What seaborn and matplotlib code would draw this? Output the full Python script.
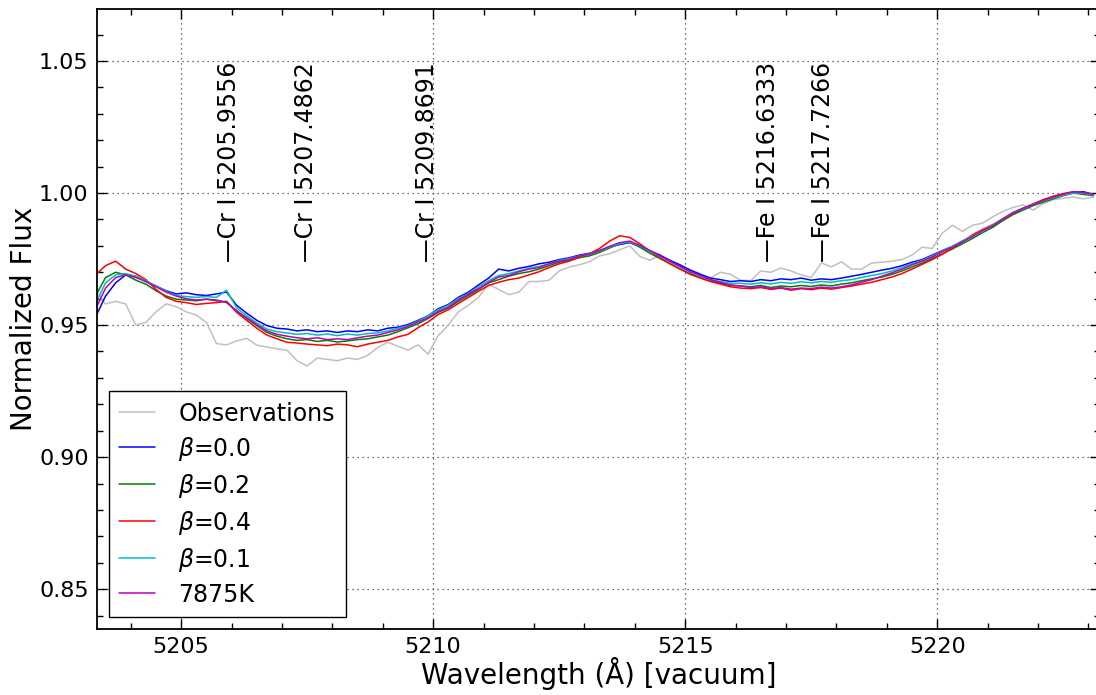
import numpy as np
import pandas as pd
import matplotlib
matplotlib.use("Agg")
from matplotlib import pyplot as plt
from matplotlib.ticker import MultipleLocator, FormatStrFormatter
import seaborn as sns

# wavelength grid (vacuum, Angstrom) the curves were read on
wave = np.round(np.arange(5203.3, 5223.15, 0.2), 1)

obs = [0.963, 0.958, 0.959, 0.958, 0.950, 0.951, 0.955, 0.958, 0.957, 0.955,
       0.9538, 0.951, 0.943, 0.9425, 0.944, 0.945, 0.9424, 0.9417, 0.941, 0.9405,
       0.9365, 0.9345, 0.9375, 0.937, 0.9365, 0.9375, 0.937, 0.9385, 0.9415, 0.9435,
       0.942, 0.9405, 0.9425, 0.939, 0.946, 0.950, 0.955, 0.9575, 0.9605, 0.9655,
       0.9635, 0.9615, 0.9625, 0.9665, 0.9665, 0.967, 0.9705, 0.972, 0.9728, 0.974,
       0.9762, 0.977, 0.9785, 0.980, 0.976, 0.9745, 0.9765, 0.9738, 0.9722, 0.971,
       0.9695, 0.9678, 0.970, 0.9692, 0.967, 0.9668, 0.9705, 0.970, 0.9716, 0.9705,
       0.969, 0.968, 0.9735, 0.972, 0.974, 0.9712, 0.9712, 0.9735, 0.9738, 0.9742,
       0.9748, 0.9765, 0.9795, 0.979, 0.9848, 0.9878, 0.9855, 0.9878, 0.9886, 0.991,
       0.993, 0.9945, 0.9955, 0.9935, 0.996, 0.9975, 0.998, 0.9985, 0.9978, 0.9985]

beta00 = [0.953, 0.961, 0.966, 0.969, 0.9685, 0.9665, 0.9648, 0.963, 0.9618, 0.9622,
          0.9615, 0.9612, 0.9618, 0.9625, 0.9575, 0.9545, 0.9518, 0.9498, 0.9488, 0.9485,
          0.9478, 0.9482, 0.9475, 0.9478, 0.9472, 0.9478, 0.9475, 0.9482, 0.9478, 0.9488,
          0.9492, 0.9502, 0.9518, 0.9535, 0.9562, 0.9578, 0.9605, 0.9625, 0.9652, 0.9678,
          0.9712, 0.9705, 0.9715, 0.9722, 0.9732, 0.9738, 0.9748, 0.9755, 0.9765, 0.9772,
          0.9782, 0.9795, 0.9805, 0.9812, 0.9798, 0.9782, 0.9765, 0.9745, 0.9728, 0.9708,
          0.9692, 0.9678, 0.9672, 0.9665, 0.9668, 0.9665, 0.9672, 0.9668, 0.9675, 0.9672,
          0.9678, 0.9670, 0.9675, 0.9672, 0.9678, 0.9685, 0.9692, 0.9700, 0.9708, 0.9715,
          0.9725, 0.9738, 0.9748, 0.9765, 0.9782, 0.9798, 0.9818, 0.9838, 0.9858, 0.9878,
          0.9902, 0.9925, 0.9942, 0.9958, 0.9972, 0.9985, 0.9995, 1.0002, 1.0005, 0.9995]

beta02 = [0.961, 0.968, 0.970, 0.969, 0.967, 0.9655, 0.963, 0.961, 0.9598, 0.9595,
          0.9592, 0.9598, 0.9595, 0.9585, 0.9555, 0.9525, 0.9498, 0.9472, 0.9458, 0.9448,
          0.9442, 0.9445, 0.9438, 0.9442, 0.9436, 0.9440, 0.9445, 0.9448, 0.9455, 0.9462,
          0.9475, 0.9490, 0.9505, 0.9525, 0.9548, 0.9565, 0.9590, 0.9612, 0.9635, 0.9660,
          0.9672, 0.9685, 0.9695, 0.9702, 0.9712, 0.9725, 0.9738, 0.9745, 0.9755, 0.9762,
          0.9775, 0.9792, 0.9808, 0.9815, 0.9795, 0.9772, 0.9752, 0.9732, 0.9712, 0.9695,
          0.9680, 0.9668, 0.9658, 0.9650, 0.9648, 0.9645, 0.9650, 0.9642, 0.9648, 0.9645,
          0.9650, 0.9646, 0.9652, 0.9648, 0.9655, 0.9660, 0.9668, 0.9675, 0.9682, 0.9692,
          0.9705, 0.9720, 0.9735, 0.9752, 0.9770, 0.9788, 0.9808, 0.9828, 0.9850, 0.9870,
          0.9895, 0.9918, 0.9935, 0.9952, 0.9965, 0.9978, 0.9990, 1.0000, 0.9995, 0.9990]

beta04 = [0.969, 0.9725, 0.9742, 0.9712, 0.9695, 0.9672, 0.9635, 0.9605, 0.9590, 0.9585,
          0.9578, 0.9582, 0.9585, 0.9590, 0.9548, 0.9518, 0.9488, 0.9462, 0.9448, 0.9435,
          0.9432, 0.9428, 0.9425, 0.9422, 0.9428, 0.9425, 0.9418, 0.9428, 0.9435, 0.9442,
          0.9455, 0.9465, 0.9490, 0.9512, 0.9540, 0.9558, 0.9582, 0.9605, 0.9628, 0.9650,
          0.9662, 0.9672, 0.9678, 0.9690, 0.9702, 0.9718, 0.9732, 0.9742, 0.9758, 0.9770,
          0.9790, 0.9818, 0.9838, 0.9832, 0.9808, 0.9780, 0.9755, 0.9732, 0.9712, 0.9692,
          0.9678, 0.9665, 0.9655, 0.9645, 0.9640, 0.9638, 0.9642, 0.9635, 0.9640, 0.9632,
          0.9638, 0.9634, 0.9640, 0.9636, 0.9642, 0.9648, 0.9655, 0.9662, 0.9672, 0.9682,
          0.9695, 0.9712, 0.9730, 0.9748, 0.9768, 0.9792, 0.9815, 0.9842, 0.9862, 0.9880,
          0.9900, 0.9922, 0.9942, 0.9958, 0.9975, 0.9988, 0.9998, 1.0005, 1.0000, 0.9995]

beta01 = [0.958, 0.966, 0.969, 0.9695, 0.9685, 0.9668, 0.9648, 0.9628, 0.9612, 0.9608,
          0.9605, 0.9608, 0.9605, 0.9632, 0.9565, 0.9535, 0.9508, 0.9485, 0.9475, 0.9470,
          0.9465, 0.9468, 0.9462, 0.9466, 0.9460, 0.9466, 0.9462, 0.9468, 0.9470, 0.9478,
          0.9488, 0.9498, 0.9515, 0.9535, 0.9558, 0.9575, 0.9600, 0.9620, 0.9645, 0.9668,
          0.9688, 0.9695, 0.9705, 0.9715, 0.9722, 0.9732, 0.9745, 0.9752, 0.9762, 0.9770,
          0.9780, 0.9795, 0.9808, 0.9815, 0.9800, 0.9780, 0.9760, 0.9740, 0.9720, 0.9700,
          0.9685, 0.9672, 0.9665, 0.9658, 0.9658, 0.9655, 0.9660, 0.9656, 0.9662, 0.9658,
          0.9664, 0.9660, 0.9665, 0.9662, 0.9668, 0.9672, 0.9680, 0.9688, 0.9695, 0.9705,
          0.9718, 0.9732, 0.9745, 0.9762, 0.9780, 0.9798, 0.9818, 0.9838, 0.9858, 0.9878,
          0.9902, 0.9925, 0.9942, 0.9956, 0.9970, 0.9982, 0.9992, 1.0000, 1.0000, 0.9992]

t7875 = [0.956, 0.964, 0.968, 0.969, 0.968, 0.9665, 0.9645, 0.9625, 0.961, 0.960,
         0.9595, 0.9598, 0.9592, 0.9588, 0.9552, 0.9528, 0.9502, 0.9478, 0.9465, 0.9458,
         0.9452, 0.9448, 0.9452, 0.9445, 0.9448, 0.9445, 0.9452, 0.9458, 0.9462, 0.9472,
         0.9482, 0.9495, 0.9512, 0.9528, 0.9552, 0.9568, 0.9595, 0.9618, 0.9638, 0.9662,
         0.9682, 0.9688, 0.9702, 0.9712, 0.9718, 0.9732, 0.9742, 0.9748, 0.9762, 0.9768,
         0.9782, 0.9798, 0.9812, 0.9818, 0.9802, 0.9782, 0.9762, 0.9742, 0.9722, 0.9702,
         0.9688, 0.9672, 0.9662, 0.9652, 0.9648, 0.9642, 0.9645, 0.9638, 0.9642, 0.9636,
         0.9640, 0.9638, 0.9644, 0.9640, 0.9645, 0.9652, 0.9662, 0.9672, 0.9685, 0.9698,
         0.9712, 0.9728, 0.9742, 0.9758, 0.9778, 0.9795, 0.9815, 0.9835, 0.9858, 0.9875,
         0.9902, 0.9925, 0.9942, 0.9955, 0.9972, 0.9985, 0.9995, 1.0005, 1.0002, 0.9995]

series_names = ["Observations", r"$\beta$=0.0", r"$\beta$=0.2", r"$\beta$=0.4", r"$\beta$=0.1", "7875K"]
series_vals = [obs, beta00, beta02, beta04, beta01, t7875]
series_cols = ["#c0c0c0", "#0000ff", "#008000", "#ff0000", "#00bfbf", "#bf00bf"]

line_wl = [5205.9556, 5207.4862, 5209.8691, 5216.6333, 5217.7266]
line_el = ["Cr I", "Cr I", "Cr I", "Fe I", "Fe I"]

df = pd.concat([pd.DataFrame({"wave": wave, "flux": v, "series": n})
                for n, v in zip(series_names, series_vals)], ignore_index=True)

sns.set_style("ticks", {"xtick.direction": "in", "ytick.direction": "in",
                        "axes.edgecolor": "black", "text.color": "black",
                        "axes.labelcolor": "black", "xtick.color": "black",
                        "ytick.color": "black"})
plt.rcParams["font.family"] = ["DejaVu Sans"]

fig = plt.figure(figsize=(10.96, 6.95), dpi=100)
ax = fig.add_axes([97 / 1096, 66 / 695, 1003 / 1096, 620 / 695])

for n, c in zip(series_names, series_cols):
    sns.lineplot(data=df[df["series"] == n], x="wave", y="flux", color=c,
                 lw=1.1, label=n, ax=ax)

for wl, el in zip(line_wl, line_el):
    ax.text(wl, 0.9738, "\u2014%s %.4f" % (el, wl), rotation=90, ha="center",
            va="bottom", fontsize=17, color="black")

ax.set_xlim(5203.33, 5223.23)
ax.set_ylim(0.8349, 1.0697)
ax.xaxis.set_major_locator(MultipleLocator(5))
ax.xaxis.set_minor_locator(MultipleLocator(1))
ax.yaxis.set_major_locator(MultipleLocator(0.05))
ax.yaxis.set_minor_locator(MultipleLocator(0.01))
ax.yaxis.set_major_formatter(FormatStrFormatter("%.2f"))
ax.tick_params(which="both", direction="in", top=True, right=True, labelsize=16,
               pad=6, colors="black")
ax.tick_params(which="major", length=7, width=1)
ax.tick_params(which="minor", length=4, width=1)
ax.grid(True, which="major", color="0.25", linestyle=(0, (1, 3)), linewidth=0.9)
for s in ax.spines.values():
    s.set_linewidth(1.3)

ax.set_xlabel("Wavelength (\u00c5) [vacuum]", fontsize=20, labelpad=0, color="black")
ax.set_ylabel("Normalized Flux", fontsize=20, labelpad=1, color="black")

leg = ax.legend(loc="lower left", fontsize=17, fancybox=False, framealpha=1,
                edgecolor="black", handlelength=1.5, handletextpad=1.0,
                labelspacing=0.38, borderpad=0.45)
leg.get_frame().set_linewidth(1.0)
for t in leg.get_texts():
    t.set_color("black")

fig.savefig("out.png", dpi=100)
